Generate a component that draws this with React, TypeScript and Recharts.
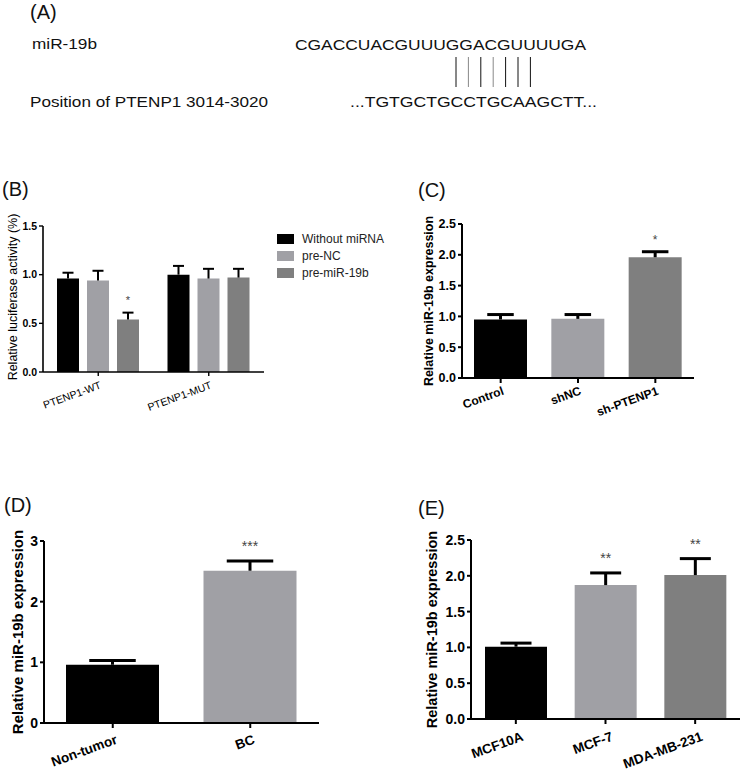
import React from 'react';
import { BarChart, Bar, XAxis, YAxis, Legend, LabelList, Cell } from 'recharts';

const FONT = '"Liberation Sans", Arial, Helvetica, sans-serif';
const BLACK = '#000000';
const LIGHT = '#a0a0a5';
const DARK = '#7f7f7f';

// ---------- Panel A (sequence alignment) ----------
const mirName = 'miR-19b';
const mirSeq = 'CGACCUACGUUUGGACGUUUUGA';
const targetName = 'Position of PTENP1 3014-3020';
const targetSeq = '...TGTGCTGCCTGCAAGCTT...';
const pairLineColors = ['#111', '#888', '#111', '#888', '#111', '#111', '#111'];

// ---------- Panel B ----------
const bGroups = ['PTENP1-WT', 'PTENP1-MUT'];
const bSeriesNames = ['Without miRNA', 'pre-NC', 'pre-miR-19b'];
const bSeriesColors = [BLACK, LIGHT, DARK];
const bWithout = [0.96, 1.0];
const bWithoutErr = [0.06, 0.09];
const bPreNC = [0.94, 0.96];
const bPreNCErr = [0.1, 0.1];
const bPreMiR = [0.54, 0.97];
const bPreMiRErr = [0.07, 0.09];
const bPreMiRSig = ['*', ''];
const bTicks = [0, 0.5, 1.0, 1.5];

// ---------- Panel C ----------
const cGroups = ['Control', 'shNC', 'sh-PTENP1'];
const cValues = [0.95, 0.96, 1.96];
const cErr = [0.08, 0.07, 0.09];
const cSig = ['', '', '*'];
const cColors = [BLACK, LIGHT, DARK];
const cTicks = [0, 0.5, 1.0, 1.5, 2.0, 2.5];

// ---------- Panel D ----------
const dGroups = ['Non-tumor', 'BC'];
const dValues = [0.96, 2.51];
const dErr = [0.07, 0.16];
const dSig = ['', '***'];
const dColors = [BLACK, LIGHT];
const dTicks = [0, 1, 2, 3];

// ---------- Panel E ----------
const eGroups = ['MCF10A', 'MCF-7', 'MDA-MB-231'];
const eValues = [1.01, 1.87, 2.01];
const eErr = [0.05, 0.17, 0.23];
const eSig = ['', '**', '**'];
const eColors = [BLACK, LIGHT, DARK];
const eTicks = [0, 0.5, 1.0, 1.5, 2.0, 2.5];

// ---------- data tables ----------
const bData = bGroups.map((g, i) => ({
  name: g,
  w: bWithout[i], wErr: bWithoutErr[i],
  n: bPreNC[i], nErr: bPreNCErr[i],
  m: bPreMiR[i], mErr: bPreMiRErr[i], mSig: bPreMiRSig[i],
}));
const cData = cGroups.map((g, i) => ({ name: g, v: cValues[i], err: cErr[i], sig: cSig[i] }));
const dData = dGroups.map((g, i) => ({ name: g, v: dValues[i], err: dErr[i], sig: dSig[i] }));
const eData = eGroups.map((g, i) => ({ name: g, v: eValues[i], err: eErr[i], sig: eSig[i] }));

// ---------- helpers ----------
const errShape = (sw: number) => (props: any) => {
  const { x, y, width, height } = props;
  if (x == null || y == null || !isFinite(x) || !isFinite(y)) return <g />;
  const cx = x + width / 2;
  const half = width / 4;
  return (
    <g>
      <line x1={cx} x2={cx} y1={y + height} y2={y} stroke="#000" strokeWidth={sw} />
      <line x1={cx - half} x2={cx + half} y1={y} y2={y} stroke="#000" strokeWidth={sw} />
    </g>
  );
};

const starLabel = (fs: number, off: number) => (props: any) => {
  const { x, y, width, value } = props;
  if (!value) return null;
  return (
    <text x={x + width / 2} y={y - off} textAnchor="middle" fontSize={fs} fill="#444" stroke="none" fontFamily={FONT}>
      {value}
    </text>
  );
};

const xTick = (fs: number, weight: string, dx: number, dy: number) => (props: any) => {
  const { x, y, payload } = props;
  return (
    <g transform={`translate(${x + dx},${y + dy}) rotate(-20)`}>
      <text x={0} y={0} dy="0.72em" textAnchor="end" fontSize={fs} fontWeight={weight} fontFamily={FONT} fill="#000">
        {payload.value}
      </text>
    </g>
  );
};

const yLabel = (text: string, cx: number, cy: number, fs: number, weight: string) => () => (
  <text
    x={cx}
    y={cy}
    transform={`rotate(-90 ${cx} ${cy})`}
    textAnchor="middle"
    dominantBaseline="central"
    fontSize={fs}
    fontWeight={weight}
    fontFamily={FONT}
    fill="#000"
  >
    {text}
  </text>
);

const fmt1 = (v: number) => v.toFixed(1);
const fmt0 = (v: number) => v.toFixed(0);

const BLegend = () => (
  <div style={{ fontFamily: FONT, fontSize: 12, color: '#222' }}>
    {bSeriesNames.map((n, i) => (
      <div key={n} style={{ display: 'flex', alignItems: 'center', height: 17 }}>
        <div style={{ width: 17, height: 10, background: bSeriesColors[i], marginRight: 8 }} />
        <span>{n}</span>
      </div>
    ))}
  </div>
);

const abs = (left: number, top: number): React.CSSProperties => ({ position: 'absolute', left, top });

export default function App() {
  const lineStartX = 456;
  const lineStep = 12.4;
  return (
    <div style={{ position: 'absolute', left: 0, top: 0, width: 740, height: 772, background: '#fff', overflow: 'hidden' }}>
      {/* Panel A and panel letters */}
      <svg width={740} height={772} style={{ position: 'absolute', left: 0, top: 0 }}>
        <g fontFamily={FONT} fill="#111">
          <text x={30} y={12} fontSize={20} dominantBaseline="central">(A)</text>
          <text x={32} y={44} fontSize={14} dominantBaseline="central" textLength={65} lengthAdjust="spacingAndGlyphs">{mirName}</text>
          <text x={295} y={44} fontSize={15.5} dominantBaseline="central" textLength={291} lengthAdjust="spacingAndGlyphs">{mirSeq}</text>
          {pairLineColors.map((c, i) => (
            <line key={i} x1={lineStartX + i * lineStep} x2={lineStartX + i * lineStep} y1={57} y2={87} stroke={c} strokeWidth={1} />
          ))}
          <text x={30} y={101} fontSize={15.5} dominantBaseline="central" textLength={238} lengthAdjust="spacingAndGlyphs">{targetName}</text>
          <text x={350} y={101} fontSize={15.5} dominantBaseline="central" textLength={247} lengthAdjust="spacingAndGlyphs">{targetSeq}</text>
          <text x={2} y={189} fontSize={20} dominantBaseline="central">(B)</text>
          <text x={418} y={190} fontSize={20} dominantBaseline="central">(C)</text>
          <text x={4} y={505} fontSize={20} dominantBaseline="central">(D)</text>
          <text x={418} y={508} fontSize={20} dominantBaseline="central">(E)</text>
        </g>
      </svg>

      {/* Panel B */}
      <div style={abs(0, 200)}>
        <BarChart width={400} height={215} data={bData} margin={{ top: 26, right: 136, bottom: 0, left: 0 }} barSize={22} barGap={8}>
          <XAxis
            dataKey="name"
            height={43}
            axisLine={{ stroke: '#000', strokeWidth: 1.6 }}
            tickLine={{ stroke: '#000', strokeWidth: 1.4 }}
            tickSize={4}
            interval={0}
            tick={xTick(10.5, 'normal', 1, 3)}
          />
          <YAxis
            width={43}
            domain={[0, 1.5]}
            ticks={bTicks}
            tickFormatter={fmt1}
            axisLine={{ stroke: '#000', strokeWidth: 1.6 }}
            tickLine={{ stroke: '#000', strokeWidth: 1.4 }}
            tickSize={4}
            tick={{ fontSize: 10.5, fontWeight: 'bold', fill: '#000', fontFamily: FONT }}
            label={yLabel('Relative luciferase activity (%)', 12.5, 97, 12.5, 'normal')}
          />
          <Legend
            layout="vertical"
            align="center"
            verticalAlign="middle"
            content={() => <BLegend />}
            wrapperStyle={{ position: 'absolute', left: 277, top: 30, width: 120 }}
          />
          <Bar dataKey="w" name={bSeriesNames[0]} stackId="a" fill={BLACK} isAnimationActive={false} />
          <Bar dataKey="wErr" stackId="a" fill="#000" legendType="none" shape={errShape(2)} isAnimationActive={false} />
          <Bar dataKey="n" name={bSeriesNames[1]} stackId="b" fill={LIGHT} isAnimationActive={false} />
          <Bar dataKey="nErr" stackId="b" fill="#000" legendType="none" shape={errShape(2)} isAnimationActive={false} />
          <Bar dataKey="m" name={bSeriesNames[2]} stackId="c" fill={DARK} isAnimationActive={false} />
          <Bar dataKey="mErr" stackId="c" fill="#000" legendType="none" shape={errShape(2)} isAnimationActive={false}>
            <LabelList dataKey="mSig" fill="#444" content={starLabel(11, 9)} />
          </Bar>
        </BarChart>
      </div>

      {/* Panel C */}
      <div style={abs(380, 200)}>
        <BarChart width={330} height={220} data={cData} margin={{ top: 24, right: 16, bottom: 0, left: 0 }} barSize={53}>
          <XAxis
            dataKey="name"
            height={42}
            axisLine={{ stroke: '#000', strokeWidth: 2 }}
            tickLine={{ stroke: '#000', strokeWidth: 2 }}
            tickSize={5}
            interval={0}
            tick={xTick(12, 'bold', 1, 1)}
          />
          <YAxis
            width={82}
            domain={[0, 2.5]}
            ticks={cTicks}
            tickFormatter={fmt1}
            axisLine={{ stroke: '#000', strokeWidth: 2 }}
            tickLine={{ stroke: '#000', strokeWidth: 2 }}
            tickSize={4}
            tick={{ fontSize: 12.5, fontWeight: 'bold', fill: '#000', fontFamily: FONT }}
            label={yLabel('Relative miR-19b expression', 48.5, 101, 12.5, 'bold')}
          />
          <Bar dataKey="v" stackId="s" isAnimationActive={false}>
            {cData.map((d, i) => (
              <Cell key={d.name} fill={cColors[i]} />
            ))}
          </Bar>
          <Bar dataKey="err" stackId="s" fill="#000" shape={errShape(3)} isAnimationActive={false}>
            <LabelList dataKey="sig" fill="#444" content={starLabel(12, 8)} />
          </Bar>
        </BarChart>
      </div>

      {/* Panel D */}
      <div style={abs(0, 520)}>
        <BarChart width={340} height={252} data={dData} margin={{ top: 21, right: 21, bottom: 0, left: 0 }} barSize={93}>
          <XAxis
            dataKey="name"
            height={49}
            axisLine={{ stroke: '#000', strokeWidth: 2 }}
            tickLine={{ stroke: '#000', strokeWidth: 2 }}
            tickSize={5}
            interval={0}
            tick={xTick(13.5, 'bold', 2, 4)}
          />
          <YAxis
            width={44}
            domain={[0, 3]}
            ticks={dTicks}
            tickFormatter={fmt0}
            axisLine={{ stroke: '#000', strokeWidth: 2 }}
            tickLine={{ stroke: '#000', strokeWidth: 2 }}
            tickSize={4}
            tick={{ fontSize: 14, fontWeight: 'bold', fill: '#000', fontFamily: FONT }}
            label={yLabel('Relative miR-19b expression', 17, 112, 15, 'bold')}
          />
          <Bar dataKey="v" stackId="s" isAnimationActive={false}>
            {dData.map((d, i) => (
              <Cell key={d.name} fill={dColors[i]} />
            ))}
          </Bar>
          <Bar dataKey="err" stackId="s" fill="#000" shape={errShape(3)} isAnimationActive={false}>
            <LabelList dataKey="sig" fill="#444" content={starLabel(14, 10)} />
          </Bar>
        </BarChart>
      </div>

      {/* Panel E */}
      <div style={abs(380, 520)}>
        <BarChart width={360} height={252} data={eData} margin={{ top: 20, right: 0, bottom: 0, left: 0 }} barSize={62}>
          <XAxis
            dataKey="name"
            height={53}
            axisLine={{ stroke: '#000', strokeWidth: 2 }}
            tickLine={{ stroke: '#000', strokeWidth: 2 }}
            tickSize={5}
            interval={0}
            tick={xTick(13.5, 'bold', 5, 5)}
          />
          <YAxis
            width={91}
            domain={[0, 2.5]}
            ticks={eTicks}
            tickFormatter={fmt1}
            axisLine={{ stroke: '#000', strokeWidth: 2 }}
            tickLine={{ stroke: '#000', strokeWidth: 2 }}
            tickSize={4}
            tick={{ fontSize: 14, fontWeight: 'bold', fill: '#000', fontFamily: FONT }}
            label={yLabel('Relative miR-19b expression', 52, 109.5, 14.5, 'bold')}
          />
          <Bar dataKey="v" stackId="s" isAnimationActive={false}>
            {eData.map((d, i) => (
              <Cell key={d.name} fill={eColors[i]} />
            ))}
          </Bar>
          <Bar dataKey="err" stackId="s" fill="#000" shape={errShape(3)} isAnimationActive={false}>
            <LabelList dataKey="sig" fill="#444" content={starLabel(14, 9.5)} />
          </Bar>
        </BarChart>
      </div>
    </div>
  );
}
